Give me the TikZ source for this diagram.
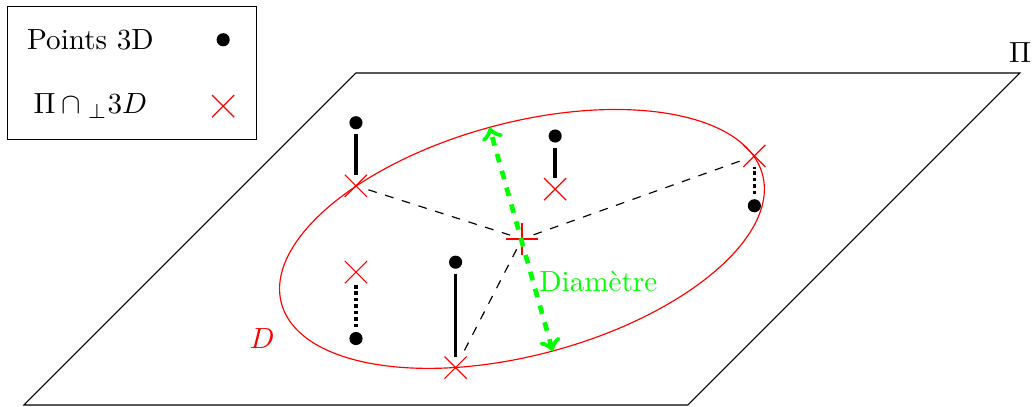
\documentclass[tikz,border=0pt]{standalone}
\usepackage{amsmath,amssymb}
\usepackage{tikz}
\usepackage{xcolor}
\usetikzlibrary{
  positioning,
  shapes.misc
}
\tikzset{
  line cap=butt,
  point/.style={circle, fill, minimum size=4.5pt, inner sep=0pt, outer sep=1.7pt},
  proj/.style={cross out, draw=red, minimum size=7.2pt, inner sep=0pt},
  link/.style={very thick},
  linkhidden/.style={very thick, densely dotted},
  radius/.style={dashed},
  diameter/.style={<->, ultra thick, dashed, green}
}
\begin{document}
\begin{tikzpicture}
  \useasboundingbox (-0.289,-0.024) rectangle (12.145,4.879);

  \coordinate (A) at (0,0);
  \coordinate (B) at (8,0);
  \coordinate (C) at (12,4);
  \coordinate (E) at (4,4);

  \draw (A)--(B)--(C)--(E)--cycle;
  \node[above] (Pi) at (C) {$\Pi$};

  \node[draw, minimum width=3cm, minimum height=1.6cm] (legend) at (1.3,4) {};
  \node (legendP) at (0.8,4.4) {Points 3D};
  \node (legendI) at (0.8,3.6) {$\Pi\cap{}_\perp 3D$};
  \node[point] (legendp) at (2.4,4.4) {};
  \node[proj] (legendx) at (2.4,3.6) {};

  \node[proj, rotate=45] (O) at (6,2) {};
  \draw[red, rotate around={15:(O.center)}] (O.center) ellipse (3 and 1.4);
  \node[red] (labelD) at (2.87,0.8) {$D$};

  \node[point] (p1) at (4,3.4) {};
  \node[point] (p2) at (6.4,3.24) {};
  \node[point] (p3) at (8.8,2.4) {};
  \node[point] (p4) at (4,0.8) {};
  \node[point] (p5) at (5.2,1.72) {};

  \node[proj] (x1) at (4,2.64) {};
  \node[proj] (x2) at (6.4,2.6) {};
  \node[proj] (x3) at (8.8,3) {};
  \node[proj] (x4) at (4,1.6) {};
  \node[proj] (x5) at (5.2,0.45) {};

  \draw[link] (p1)--(x1);
  \draw[link] (p2)--(x2);
  \draw[link] (p5)--(x5);
  \draw[linkhidden] (p3)--(x3);
  \draw[linkhidden] (p4)--(x4);

  \draw[radius] (O)--(x1);
  \draw[radius] (O)--(x3);
  \draw[radius] (O)--(x5);

  \coordinate (d1) at (5.61,3.34);
  \coordinate (d2) at (6.37,0.65);
  \draw[diameter] (d2)--(d1);
  \node[green] (labeldiam) at (6.92,1.49) {Diamètre};
\end{tikzpicture}
\end{document}
